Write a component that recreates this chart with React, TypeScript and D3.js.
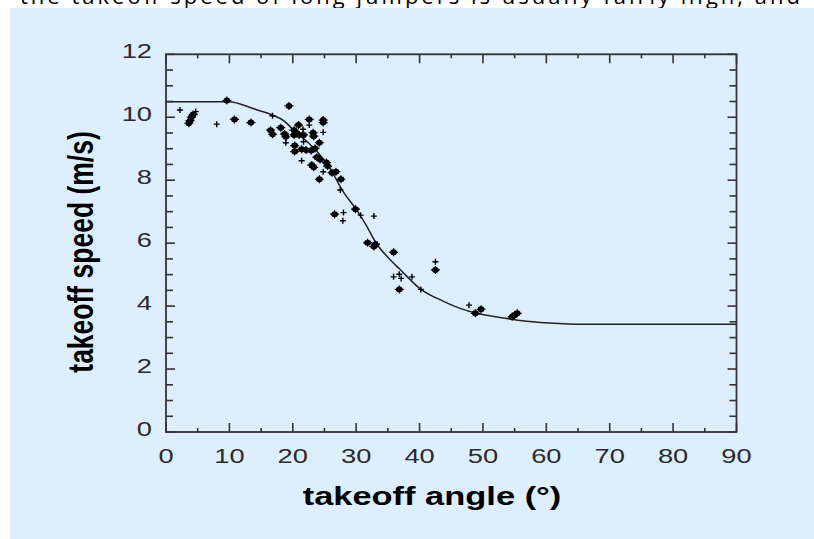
import React from "react";
import * as d3 from "d3";

// ---- data ----
const xTicks = [0, 10, 20, 30, 40, 50, 60, 70, 80, 90];
const yTicks = [0, 2, 4, 6, 8, 10, 12];

// fitted curve: [takeoff angle (°), takeoff speed (m/s)]
const curvePoints: [number, number][] = [
  [0, 10.49], [10, 10.49], [12, 10.4], [14.3, 10.24], [16.9, 10.06], [18.5, 9.9],
  [20.1, 9.6], [22, 9.27], [23.8, 8.92], [25.9, 8.37], [28, 7.62], [30.1, 7.05],
  [31.5, 6.6], [33.2, 5.99], [35, 5.55], [36.9, 5.17], [40.1, 4.55], [43.7, 4.16],
  [46.5, 3.92], [49, 3.77], [52, 3.66], [56.9, 3.52], [62, 3.45], [66.9, 3.42], [90, 3.42],
];

// large filled markers
const dotPoints: [number, number][] = [
  [4.3, 10.09], [4.0, 10.0], [3.8, 9.89], [3.6, 9.81],
  [9.6, 10.53], [10.8, 9.93], [13.4, 9.83],
  [19.4, 10.36], [16.5, 9.59], [16.8, 9.46], [18.1, 9.67], [18.7, 9.47], [18.9, 9.38],
  [20.9, 9.75], [20.2, 9.59], [20.6, 9.49], [21.0, 9.44], [21.7, 9.44], [20.2, 9.44],
  [22.6, 9.93], [23.2, 9.51], [23.3, 9.4], [24.8, 9.91], [24.8, 9.83], [24.2, 9.19],
  [20.3, 9.1], [20.3, 8.91], [21.4, 8.98], [22.1, 8.96], [22.9, 8.94], [23.5, 9.01],
  [23.0, 8.48], [23.3, 8.41], [23.8, 8.73], [24.3, 8.66], [25.3, 8.56], [25.5, 8.45],
  [26.2, 8.24], [26.8, 8.27], [24.2, 8.03], [27.6, 8.03],
  [26.6, 6.92], [29.9, 7.08], [31.8, 6.01], [33.0, 5.96], [32.8, 5.89],
  [35.9, 5.71], [42.5, 5.15], [36.8, 4.53], [49.7, 3.9], [48.8, 3.77],
  [54.6, 3.66], [55.0, 3.72], [55.4, 3.77],
];

// small plus markers
const plusPoints: [number, number][] = [
  [2.2, 10.23], [4.7, 10.18], [8.0, 9.78], [16.8, 10.05], [18.9, 9.19], [22.6, 9.75],
  [21.6, 9.62], [24.8, 9.52], [21.7, 9.22], [21.4, 8.62], [24.8, 8.27], [27.5, 7.69],
  [28.0, 6.97], [27.9, 6.71], [30.7, 6.89], [32.8, 6.86], [33.3, 5.97], [42.5, 5.41],
  [35.9, 4.93], [36.8, 5.01], [37.1, 4.88], [38.8, 4.93], [40.2, 4.53], [47.8, 4.03],
];

const xTitle = "takeoff angle (°)";
const yTitle = "takeoff speed (m/s)";
const topText = "the takeoff speed of long jumpers is usually fairly high, and";

export default function App() {
  const W = 814, H = 539;
  const left = 166, right = 736.5, top = 54.3, bottom = 432;
  const x = d3.scaleLinear().domain([0, 90]).range([left, right]);
  const y = d3.scaleLinear().domain([0, 12]).range([bottom, top]);
  const line = d3.line<[number, number]>().x(d => x(d[0])).y(d => y(d[1])).curve(d3.curveMonotoneX);

  const xMinor = d3.range(5, 90, 10);
  const yMinor = d3.range(0.5, 12, 0.5).filter(v => v % 2 !== 0);
  const axisColor = "#333";
  const sx = 1.3;
  const font = "'Liberation Sans', Arial, sans-serif";

  return (
    <svg width={W} height={H} style={{ position: "absolute", left: 0, top: 0, background: "#fff" }}>
      <text x={20} y={4} fontFamily="'Open Sans', sans-serif" fontSize={22} fill="#000"
        textLength={780} lengthAdjust="spacing">{topText}</text>
      <rect x={10} y={8} width={W - 10} height={H - 8} fill="#ddeeff" />

      {/* ticks */}
      <g stroke={axisColor} strokeWidth={1.6}>
        {xTicks.map(t => (
          <g key={"xt" + t}>
            <line x1={x(t)} x2={x(t)} y1={bottom} y2={bottom - 9} />
            <line x1={x(t)} x2={x(t)} y1={top} y2={top + 9} />
          </g>
        ))}
        {xMinor.map(t => (
          <g key={"xm" + t}>
            <line x1={x(t)} x2={x(t)} y1={bottom} y2={bottom - 4} />
            <line x1={x(t)} x2={x(t)} y1={top} y2={top + 4} />
          </g>
        ))}
        {yTicks.map(t => (
          <g key={"yt" + t}>
            <line x1={left} x2={left + 9} y1={y(t)} y2={y(t)} />
            <line x1={right} x2={right - 9} y1={y(t)} y2={y(t)} />
          </g>
        ))}
        {yMinor.map(t => (
          <g key={"ym" + t}>
            <line x1={left} x2={left + 7} y1={y(t)} y2={y(t)} />
            <line x1={right} x2={right - 7} y1={y(t)} y2={y(t)} />
          </g>
        ))}
      </g>
      <rect x={left} y={top} width={right - left} height={bottom - top} fill="none" stroke={axisColor} strokeWidth={1.8} />

      {/* tick labels */}
      <g fontFamily={font} fontSize={21} fill="#2a2a2a">
        {xTicks.map(t => (
          <text key={"xl" + t} transform={`translate(${x(t)},463) scale(${sx},1)`} textAnchor="middle">{t}</text>
        ))}
        {yTicks.map(t => (
          <text key={"yl" + t} transform={`translate(152,${y(t) + 4}) scale(${sx},1)`} textAnchor="end">{t}</text>
        ))}
      </g>

      {/* titles */}
      <text transform={`translate(432,505) scale(${sx},1)`} textAnchor="middle" fontFamily={font}
        fontWeight="bold" fontSize={26.5} fill="#000">{xTitle}</text>
      <text transform={`translate(93,252) scale(${sx},1) rotate(-90)`} textAnchor="middle" fontFamily={font}
        fontWeight="bold" fontSize={26.5} fill="#000">{yTitle}</text>

      {/* curve */}
      <path d={line(curvePoints) || ""} fill="none" stroke="#222" strokeWidth={1.5} />

      {/* markers */}
      <g fill="#000">
        {dotPoints.map((d, i) => (
          <g key={"d" + i} transform={`translate(${x(d[0])},${y(d[1])})`}>
            <ellipse rx={3.4} ry={3.0} />
            <path d="M-4.5,0H4.5M0,-4V4" stroke="#000" strokeWidth={1.2} />
          </g>
        ))}
      </g>
      <g stroke="#000" strokeWidth={1.4}>
        {plusPoints.map((d, i) => (
          <path key={"p" + i} transform={`translate(${x(d[0])},${y(d[1])})`} d="M-3,0H3M0,-3V3" />
        ))}
      </g>
    </svg>
  );
}
